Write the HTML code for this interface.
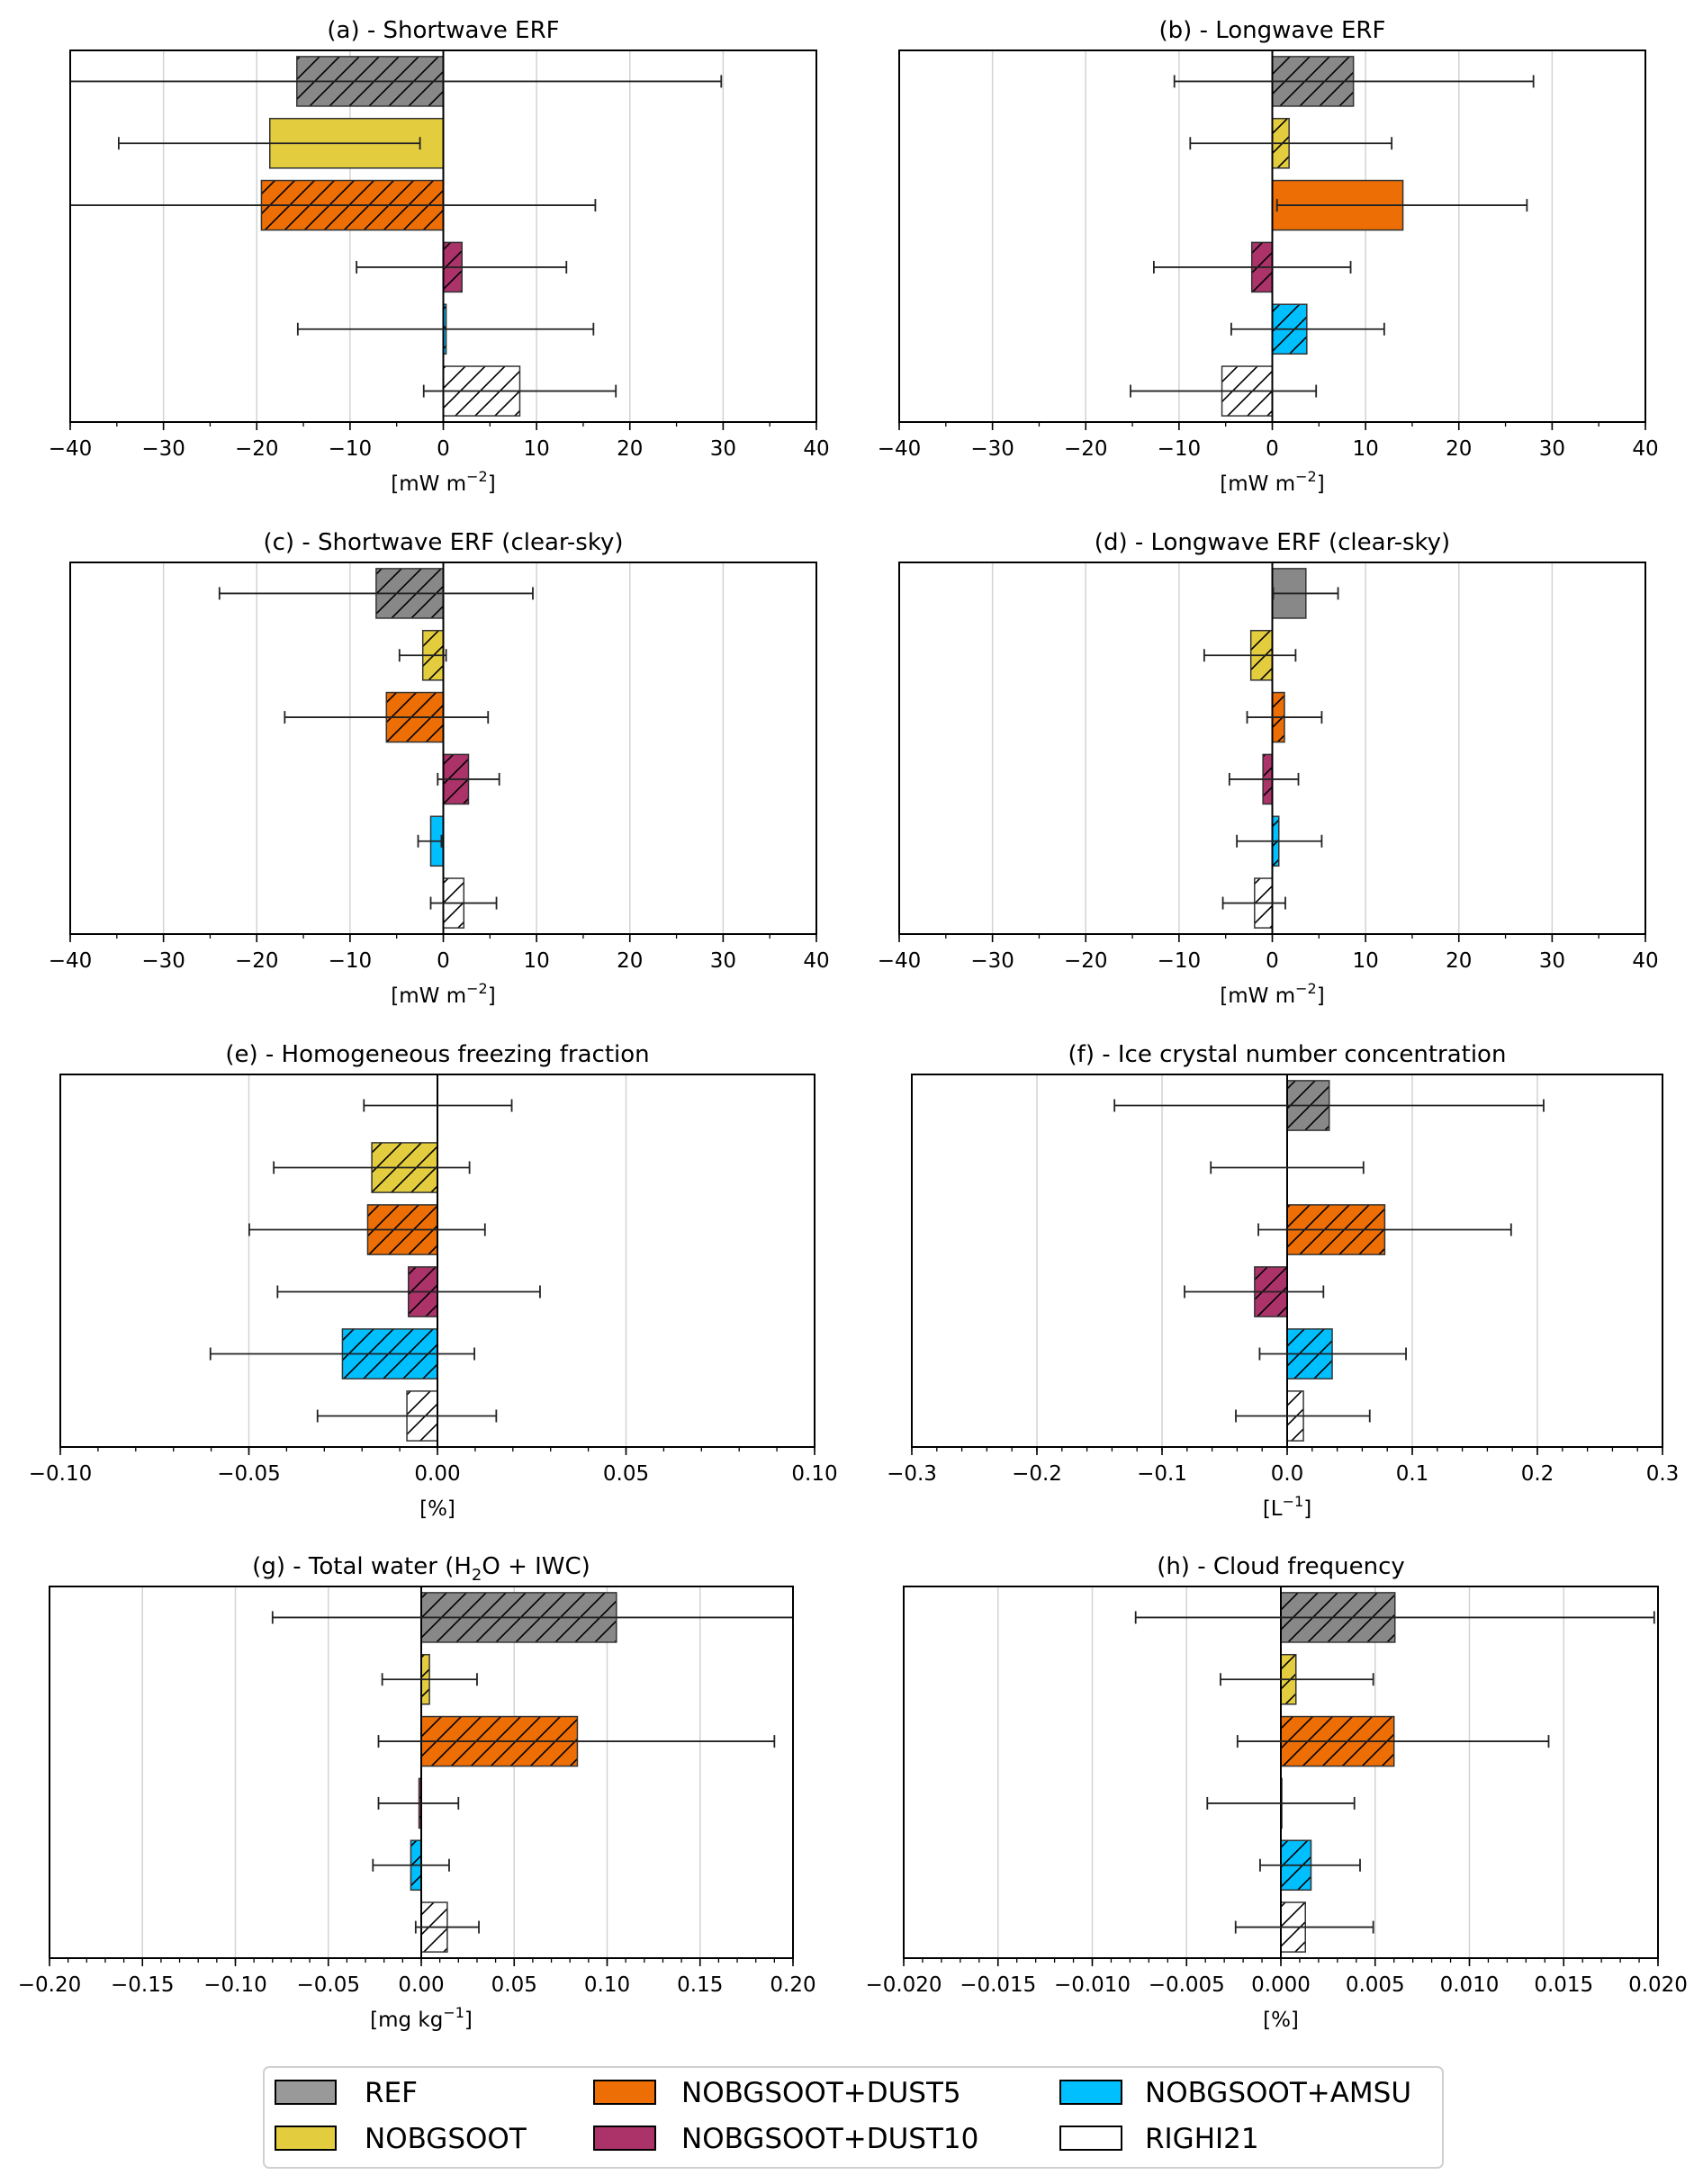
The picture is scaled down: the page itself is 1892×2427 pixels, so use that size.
<!DOCTYPE html>
<html><head><meta charset="utf-8"><title>ERF panels</title>
<style>
html,body{margin:0;padding:0;background:#fff;}
svg{display:block;font-family:"DejaVu Sans","Liberation Sans",sans-serif;}
</style></head>
<body>
<svg id="fig" width="1892" height="2427" viewBox="0 0 1892 2427" xmlns="http://www.w3.org/2000/svg">
<defs id="defs"></defs>
<g id="panels"></g>
<g id="legend">
  <rect x="293" y="2297" width="1310" height="112" rx="6" fill="#fff" stroke="#d0d0d0" stroke-width="2"/>
  <rect x="306" y="2312" width="67" height="26" fill="#999" stroke="#000" stroke-width="2"/>
  <text x="405" y="2336" font-size="31">REF</text>
  <rect x="306" y="2363" width="67" height="26" fill="#e3cd3f" stroke="#000" stroke-width="2"/>
  <text x="405" y="2387" font-size="31">NOBGSOOT</text>
  <rect x="660" y="2312" width="68" height="26" fill="#ec6e05" stroke="#000" stroke-width="2"/>
  <text x="757" y="2336" font-size="31">NOBGSOOT+DUST5</text>
  <rect x="660" y="2363" width="68" height="26" fill="#ab336a" stroke="#000" stroke-width="2"/>
  <text x="757" y="2387" font-size="31">NOBGSOOT+DUST10</text>
  <rect x="1178" y="2312" width="68" height="26" fill="#00bfff" stroke="#000" stroke-width="2"/>
  <text x="1272" y="2336" font-size="31">NOBGSOOT+AMSU</text>
  <rect x="1178" y="2363" width="68" height="26" fill="#fff" stroke="#000" stroke-width="2"/>
  <text x="1272" y="2387" font-size="31">RIGHI21</text>
</g>
</svg>
<script>
const categories = ['REF','NOBGSOOT','NOBGSOOT+DUST5','NOBGSOOT+DUST10','NOBGSOOT+AMSU','RIGHI21'];

const aValues = [-15.7, -18.6, -19.5, 2.0, 0.3, 8.2];
const aLow    = [-44, -34.8, -44, -9.3, -15.6, -2.1];
const aHigh   = [29.8, -2.5, 16.3, 13.2, 16.1, 18.5];

const bValues = [8.7, 1.8, 14.0, -2.2, 3.7, -5.4];
const bLow    = [-10.5, -8.8, 0.5, -12.7, -4.4, -15.2];
const bHigh   = [28.0, 12.8, 27.3, 8.4, 12.0, 4.7];

const cValues = [-7.2, -2.2, -6.1, 2.7, -1.35, 2.2];
const cLow    = [-24.0, -4.7, -17.0, -0.6, -2.7, -1.35];
const cHigh   = [9.6, 0.3, 4.8, 6.0, -0.2, 5.7];

const dValues = [3.6, -2.3, 1.3, -1.0, 0.7, -1.9];
const dLow    = [0.1, -7.3, -2.7, -4.6, -3.8, -5.3];
const dHigh   = [7.05, 2.5, 5.3, 2.8, 5.3, 1.4];

const eValues = [0, -0.0174, -0.0185, -0.0077, -0.0252, -0.0081];
const eLow    = [-0.0195, -0.0434, -0.0499, -0.0424, -0.0602, -0.0318];
const eHigh   = [0.0197, 0.0085, 0.0126, 0.0272, 0.0098, 0.0156];

const fValues = [0.0336, 0, 0.078, -0.026, 0.036, 0.013];
const fLow    = [-0.138, -0.061, -0.023, -0.082, -0.022, -0.041];
const fHigh   = [0.205, 0.061, 0.179, 0.029, 0.095, 0.066];

const gValues = [0.105, 0.0044, 0.084, -0.0012, -0.0056, 0.014];
const gLow    = [-0.080, -0.021, -0.023, -0.023, -0.026, -0.003];
const gHigh   = [0.22, 0.030, 0.190, 0.020, 0.015, 0.031];

const hValues = [0.00605, 0.0008, 0.006, 0.00005, 0.0016, 0.0013];
const hLow    = [-0.0077, -0.0032, -0.0023, -0.0039, -0.0011, -0.0024];
const hHigh   = [0.0198, 0.0049, 0.0142, 0.0039, 0.0042, 0.0049];

const ergTicks = [-40,-30,-20,-10,0,10,20,30,40];
const ergTickLabels = ['−40','−30','−20','−10','0','10','20','30','40'];
const eTicks = [-0.10,-0.05,0,0.05,0.10];
const eTickLabels = ['−0.10','−0.05','0.00','0.05','0.10'];
const fTicks = [-0.3,-0.2,-0.1,0,0.1,0.2,0.3];
const fTickLabels = ['−0.3','−0.2','−0.1','0.0','0.1','0.2','0.3'];
const gTicks = [-0.20,-0.15,-0.10,-0.05,0,0.05,0.10,0.15,0.20];
const gTickLabels = ['−0.20','−0.15','−0.10','−0.05','0.00','0.05','0.10','0.15','0.20'];
const hTicks = [-0.020,-0.015,-0.010,-0.005,0,0.005,0.010,0.015,0.020];
const hTickLabels = ['−0.020','−0.015','−0.010','−0.005','0.000','0.005','0.010','0.015','0.020'];

const fills = ['#888888','#e3cd3f','#ec6e05','#ab336a','#00bfff','#ffffff'];
const NS = 'http://www.w3.org/2000/svg';
const defs = document.getElementById('defs');
const root = document.getElementById('panels');

function mk(tag, attrs, parent){
  const el = document.createElementNS(NS, tag);
  for (const k in attrs) el.setAttribute(k, attrs[k]);
  if (parent) parent.appendChild(el);
  return el;
}
// hatch patterns
fills.forEach((c,i)=>{
  const p = mk('pattern',{id:'hatch'+i,patternUnits:'userSpaceOnUse',width:22,height:22},defs);
  mk('rect',{x:0,y:0,width:22,height:22,fill:c},p);
  mk('path',{d:'M-2,24 L24,-2 M-13,13 L13,-13 M9,35 L35,9',stroke:'#000','stroke-width':1.6},p);
});

const panels = [
  {id:'a',title:'(a) - Shortwave ERF',label:['[mW m','−2',']'],x0:78,x1:907,y0:56,y1:469,min:-40,max:40,ticks:ergTicks,tl:ergTickLabels,minor:5,v:aValues,lo:aLow,hi:aHigh},
  {id:'b',title:'(b) - Longwave ERF',label:['[mW m','−2',']'],x0:999,x1:1828,y0:56,y1:469,min:-40,max:40,ticks:ergTicks,tl:ergTickLabels,minor:5,v:bValues,lo:bLow,hi:bHigh},
  {id:'c',title:'(c) - Shortwave ERF (clear-sky)',label:['[mW m','−2',']'],x0:78,x1:907,y0:625,y1:1038,min:-40,max:40,ticks:ergTicks,tl:ergTickLabels,minor:5,v:cValues,lo:cLow,hi:cHigh},
  {id:'d',title:'(d) - Longwave ERF (clear-sky)',label:['[mW m','−2',']'],x0:999,x1:1828,y0:625,y1:1038,min:-40,max:40,ticks:ergTicks,tl:ergTickLabels,minor:5,v:dValues,lo:dLow,hi:dHigh},
  {id:'e',title:'(e) - Homogeneous freezing fraction',label:['[%]'],x0:67,x1:905,y0:1194,y1:1608,min:-0.1,max:0.1,ticks:eTicks,tl:eTickLabels,minor:0.01,v:eValues,lo:eLow,hi:eHigh},
  {id:'f',title:'(f) - Ice crystal number concentration',label:['[L','−1',']'],x0:1013,x1:1847,y0:1194,y1:1608,min:-0.3,max:0.3,ticks:fTicks,tl:fTickLabels,minor:0.02,v:fValues,lo:fLow,hi:fHigh},
  {id:'g',title:'g',label:['[mg kg','−1',']'],x0:55,x1:881,y0:1763,y1:2176,min:-0.2,max:0.2,ticks:gTicks,tl:gTickLabels,minor:0.01,v:gValues,lo:gLow,hi:gHigh},
  {id:'h',title:'(h) - Cloud frequency',label:['[%]'],x0:1004,x1:1842,y0:1763,y1:2176,min:-0.02,max:0.02,ticks:hTicks,tl:hTickLabels,minor:0.001,v:hValues,lo:hLow,hi:hHigh}
];

panels.forEach(P=>{
  const g = mk('g',{},root);
  
  
  const sx = v => P.x0 + (v-P.min)/(P.max-P.min)*(P.x1-P.x0);
  const slot = (P.y1-P.y0)/6;
  const cx = (P.x0+P.x1)/2;
  // title
  const t = mk('text',{x:cx,y:P.y0-14,'font-size':26,'text-anchor':'middle'},g);
  
  
  if (P.id==='g'){
    t.appendChild(document.createTextNode('(g) - Total water (H'));
    const s = mk('tspan',{dy:7,'font-size':18},t); s.textContent='2';
    const s2 = mk('tspan',{dy:-7},t); s2.textContent='O + IWC)';
  } else t.textContent = P.title;
  // clip
  const cp = mk('clipPath',{id:'clip'+P.id},defs);
  mk('rect',{x:P.x0,y:P.y0,width:P.x1-P.x0,height:P.y1-P.y0},cp);
  // grid
  P.ticks.forEach(tk=>{
    if (Math.abs(tk)<1e-12) return;
    const gl = mk('line',{x1:sx(tk),x2:sx(tk),y1:P.y0,y2:P.y1,stroke:'#d3d3d3','stroke-width':1.5},g);
    
    
  });
  const body = mk('g',{'clip-path':'url(#clip'+P.id+')'},g);
  // bars
  P.v.forEach((val,i)=>{
    const yc = P.y0 + (i+0.5)*slot;
    const hatched = P.lo[i]<0 && P.hi[i]>0;
    const xa = Math.min(sx(0),sx(val)), w = Math.abs(sx(val)-sx(0));
    const r = mk('rect',{x:xa,y:yc-0.4*slot,width:w,height:0.8*slot,fill:hatched?'url(#hatch'+i+')':fills[i],stroke:'#333','stroke-width':1.5},body);
    
    
  });
  // zero line
  const z = mk('line',{x1:sx(0),x2:sx(0),y1:P.y0,y2:P.y1,stroke:'#000','stroke-width':2},body);
  
  
  // error bars
  P.v.forEach((val,i)=>{
    const yc = P.y0 + (i+0.5)*slot;
    const eg = mk('g',{stroke:'#222','stroke-width':1.8},body);
    
    
    mk('line',{x1:sx(P.lo[i]),x2:sx(P.hi[i]),y1:yc,y2:yc},eg);
    mk('line',{x1:sx(P.lo[i]),x2:sx(P.lo[i]),y1:yc-7,y2:yc+7},eg);
    mk('line',{x1:sx(P.hi[i]),x2:sx(P.hi[i]),y1:yc-7,y2:yc+7},eg);
  });
  // frame
  const fr = mk('rect',{x:P.x0,y:P.y0,width:P.x1-P.x0,height:P.y1-P.y0,fill:'none',stroke:'#000','stroke-width':2},g);
  
  
  // minor ticks
  const n = Math.round((P.max-P.min)/P.minor);
  for (let k=0;k<=n;k++){
    const v = P.min + k*P.minor;
    mk('line',{x1:sx(v),x2:sx(v),y1:P.y1,y2:P.y1+5,stroke:'#000','stroke-width':1.3},g);
  }
  // major ticks
  const xa = mk('g',{},g);
  
  
  P.ticks.forEach((tk,j)=>{
    mk('line',{x1:sx(tk),x2:sx(tk),y1:P.y1,y2:P.y1+9,stroke:'#000','stroke-width':1.6},xa);
    const tt = mk('text',{x:sx(tk),y:P.y1+37,'font-size':23,'text-anchor':'middle'},xa);
    
    
    tt.textContent = P.tl[j];
  });
  // x label
  const xl = mk('text',{x:cx,y:P.y1+76,'font-size':23,'text-anchor':'middle'},g);
  
  
  xl.appendChild(document.createTextNode(P.label[0]));
  if (P.label.length>1){
    const sp = mk('tspan',{dy:-10,'font-size':16},xl); sp.textContent=P.label[1];
    const s3 = mk('tspan',{dy:10},xl); s3.textContent=P.label[2];
  }
});
</script>
</body></html>
